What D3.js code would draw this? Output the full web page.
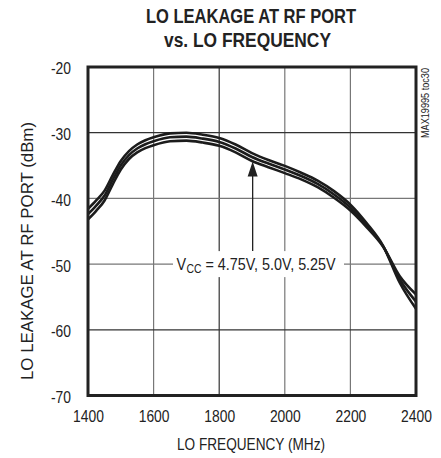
<!DOCTYPE html>
<html>
<head>
<meta charset="utf-8">
<script src="https://cdn.jsdelivr.net/npm/d3@7"></script>
<style>
  html, body { margin: 0; padding: 0; background: #fff; }
  svg { display: block; }
  text { font-family: "Liberation Sans", Arial, sans-serif; fill: #222; }
</style>
</head>
<body>
<svg id="chart" width="441" height="458"></svg>
<script>
// ---- data ----
const freq = [1400,1425,1450,1475,1500,1525,1550,1575,1600,1650,1700,1750,1800,1850,1900,1950,2000,2050,2100,2150,2200,2250,2300,2350,2400];
const vcc475 = [-41.6,-40.3,-38.85,-36.5,-34.3,-32.8,-31.8,-31.15,-30.7,-30.1,-30.0,-30.3,-30.8,-31.8,-33.1,-34.15,-35.05,-36.1,-37.3,-38.9,-40.95,-43.8,-47.25,-52.8,-56.8];
const vcc500 = [-42.4,-41.1,-39.6,-37.2,-34.95,-33.4,-32.4,-31.75,-31.3,-30.7,-30.6,-30.9,-31.4,-32.4,-33.7,-34.7,-35.6,-36.6,-37.8,-39.4,-41.4,-44.1,-47.3,-52.3,-55.7];
const vcc525 = [-43.2,-41.9,-40.35,-37.9,-35.6,-34.0,-33.0,-32.35,-31.9,-31.3,-31.2,-31.5,-32.0,-33.0,-34.3,-35.25,-36.15,-37.1,-38.3,-39.9,-41.85,-44.4,-47.35,-51.8,-54.6];
const xTicks = [1400,1600,1800,2000,2200,2400];
const yTicks = [-70,-60,-50,-40,-30,-20];
const titleLines = ["LO LEAKAGE AT RF PORT", "vs. LO FREQUENCY"];
const xLabel = "LO FREQUENCY (MHz)";
const yLabel = "LO LEAKAGE AT RF PORT (dBm)";
const annParts = ["V", "CC", "= 4.75V, 5.0V, 5.25V"];
const sideNote = "MAX19995 toc30";

// ---- layout ----
const svg = d3.select("#chart");
const L = 88, R = 416, T = 67, B = 395.5;
const x = d3.scaleLinear().domain([1400, 2400]).range([L, R]);
const y = d3.scaleLinear().domain([-70, -20]).range([B, T]);

function condense(sel, k) {
  sel.each(function () {
    const w = this.getComputedTextLength();
    d3.select(this).attr("textLength", w * k).attr("lengthAdjust", "spacingAndGlyphs");
  });
}

// grid
const darkV = new Set([1800]);
const darkH = new Set([-30, -60]);
const grid = svg.append("g");
xTicks.slice(1, -1).forEach(v => {
  grid.append("line").attr("x1", x(v)).attr("x2", x(v)).attr("y1", T).attr("y2", B)
    .attr("stroke", darkV.has(v) ? "#333" : "#777").attr("stroke-width", 1.2);
});
yTicks.slice(1, -1).forEach(v => {
  grid.append("line").attr("x1", L).attr("x2", R).attr("y1", y(v)).attr("y2", y(v))
    .attr("stroke", darkH.has(v) ? "#333" : "#777").attr("stroke-width", 1.2);
});

// curves
const line = d3.line().x((d, i) => x(freq[i])).y(d => y(d)).curve(d3.curveMonotoneX);
[vcc475, vcc500, vcc525].forEach(s => {
  svg.append("path").attr("d", line(s)).attr("fill", "none")
    .attr("stroke", "#1c1c1c").attr("stroke-width", 2.6).attr("stroke-linejoin", "round");
});

// annotation (white box masks grid)
const annY = y(-50);
svg.append("rect").attr("x", 173).attr("y", annY - 13).attr("width", 171).attr("height", 26).attr("fill", "#fff");
const annG = svg.append("g").attr("transform", `translate(176.5,${annY + 6}) scale(0.87,1)`);
const t1 = annG.append("text").attr("x", 0).attr("font-size", 16.5).text(annParts[0]);
const w1 = t1.node().getComputedTextLength();
const t2 = annG.append("text").attr("x", w1 + 0.5).attr("y", 3).attr("font-size", 12).text(annParts[1]);
const w2 = t2.node().getComputedTextLength();
annG.append("text").attr("x", w1 + w2 + 5).attr("font-size", 16.5).text(annParts[2]);

// arrow
const ax = x(1902);
svg.append("line").attr("x1", ax).attr("x2", ax).attr("y1", annY - 13).attr("y2", y(-35.8))
  .attr("stroke", "#222").attr("stroke-width", 1.3);
const tipY = y(-34.4);
svg.append("path").attr("d", `M${ax},${tipY} L${ax - 5},${tipY + 15} L${ax + 5},${tipY + 15} Z`).attr("fill", "#222");

// frame
svg.append("rect").attr("x", L).attr("y", T).attr("width", R - L).attr("height", B - T)
  .attr("fill", "none").attr("stroke", "#222").attr("stroke-width", 3);

// axes labels
const xAxis = d3.axisBottom(x).tickValues(xTicks).tickSize(0).tickPadding(15).tickFormat(d => String(d));
const gx = svg.append("g").attr("transform", `translate(0,${B})`).call(xAxis);
gx.select(".domain").remove();
gx.attr("font-family", null).attr("font-size", null);
gx.selectAll("text").attr("font-size", 16.5).attr("fill", "#222");
condense(gx.selectAll("text"), 0.84);

const yAxis = d3.axisLeft(y).tickValues(yTicks).tickSize(0).tickPadding(17).tickFormat(d => String(d));
const gy = svg.append("g").attr("transform", `translate(${L},0)`).call(yAxis);
gy.select(".domain").remove();
gy.attr("font-family", null).attr("font-size", null);
gy.selectAll("text").attr("font-size", 16.5).attr("fill", "#222").attr("dy", "0.42em");
condense(gy.selectAll("text"), 0.84);

// axis titles
svg.append("text").attr("x", 251).attr("y", 450).attr("text-anchor", "middle").attr("font-size", 16.5)
  .attr("textLength", 148).attr("lengthAdjust", "spacingAndGlyphs").text(xLabel);
svg.append("text").attr("transform", `translate(33,251) rotate(-90)`).attr("text-anchor", "middle")
  .attr("font-size", 16).attr("textLength", 258).attr("lengthAdjust", "spacingAndGlyphs").text(yLabel);

// title
svg.append("text").attr("x", 251).attr("y", 22.7).attr("text-anchor", "middle").attr("font-size", 19.5)
  .attr("font-weight", "bold").attr("textLength", 210).attr("lengthAdjust", "spacingAndGlyphs").attr("fill", "#111").text(titleLines[0]);
svg.append("text").attr("x", 247.5).attr("y", 47.3).attr("text-anchor", "middle").attr("font-size", 19.5)
  .attr("font-weight", "bold").attr("textLength", 167).attr("lengthAdjust", "spacingAndGlyphs").attr("fill", "#111").text(titleLines[1]);

// side note
svg.append("text").attr("transform", `translate(429,103) rotate(-90)`).attr("text-anchor", "middle")
  .attr("font-size", 10).attr("fill", "#444").attr("textLength", 70).attr("lengthAdjust", "spacingAndGlyphs").text(sideNote);
</script>
</body>
</html>
